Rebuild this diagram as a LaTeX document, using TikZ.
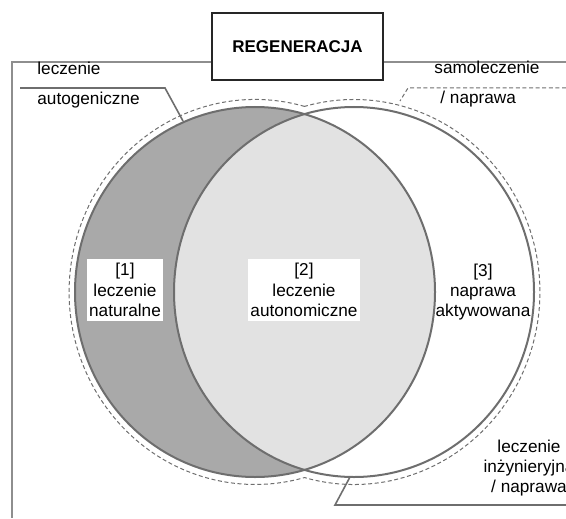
\documentclass[tikz,border=0pt]{standalone}
\usepackage{fontspec}
\setmainfont{Liberation Sans}
\usepackage{tikz}
\usetikzlibrary{positioning, calc}
\definecolor{venndark}{HTML}{A9A9A9}
\definecolor{vennlight}{HTML}{E2E2E2}
\definecolor{vennline}{HTML}{6E6E6E}
\definecolor{frameline}{HTML}{8E8E8E}
\tikzset{titlebox/.style = {draw=black!85, line width=0.8pt, minimum width=85.5pt, minimum height=33.5pt, font=\bfseries\fontsize{8.5}{10}\selectfont}}
\tikzset{region/.style = {align=center, inner xsep=1.2pt, inner ysep=2.4pt, font=\fontsize{8.6}{10.1}\selectfont}}
\tikzset{tag/.style = {inner sep=0pt, anchor=base west, font=\fontsize{8.6}{10.1}\selectfont}}
\tikzset{frame/.style = {frameline, line width=1pt}}
\tikzset{lead/.style = {vennline, line width=0.8pt}}
\tikzset{bound/.style = {vennline, line width=0.5pt, dash pattern=on 2pt off 1.3pt}}
\tikzset{ring/.style = {vennline, line width=1pt}}

\begin{document}
\begin{tikzpicture}[x=0.5pt, y=-0.5pt]
            \clip (0,0) rectangle (566,518);
            \coordinate (cL) at (255,292);
            \coordinate (cR) at (354,292);
            \coordinate (cusp) at (304.5,106.4);

            \fill[venndark] (cL) ellipse [x radius=90pt, y radius=92.5pt];
            \begin{scope}
                \clip (cR) ellipse [x radius=90pt, y radius=92.5pt];
                \fill[vennlight] (cL) ellipse [x radius=90pt, y radius=92.5pt];
            \end{scope}
            \draw[ring] (cL) ellipse [x radius=90pt, y radius=92.5pt];
            \draw[ring] (cR) ellipse [x radius=90pt, y radius=92.5pt];
            \draw[bound] (cusp) arc [start angle=74.6, end angle=285.4, x radius=93pt, y radius=96.25pt]
                                arc [start angle=-105.4, end angle=105.4, x radius=93pt, y radius=96.25pt];

            \node[titlebox] (regen) at (297.5,46.5) {REGENERACJA};
            \coordinate (frameL) at (12,62);
            \coordinate (frameB) at (12,518);
            \coordinate (frameR) at (566,62);
            \draw[frame] (regen.west |- frameL) -- (frameL) -- (frameB);
            \draw[frame] (regen.east |- frameR) -- (frameR);

            \node[tag] (autoA) at (37,75)  {leczenie};
            \node[tag] (autoB) at (37,105) {autogeniczne};
            \coordinate (autoS) at (20,88);
            \coordinate (autoK) at (165,88);
            \coordinate (autoE) at (183,121);
            \draw[lead] (autoS) -- (autoK) -- (autoE);

            \node[tag] (selfA) at (434,74)  {samoleczenie};
            \node[tag] (selfB) at (440,104) {/ naprawa};
            \coordinate (selfS) at (566,88);
            \coordinate (selfK) at (408,88);
            \coordinate (selfE) at (400,101);
            \draw[bound] (selfS) -- (selfK) -- (selfE);

            \node[region] (engin) at (529,468) {leczenie\\inżynieryjna\\/ naprawa};
            \coordinate (enginS) at (350,477);
            \coordinate (enginK) at (335,505);
            \coordinate (enginE) at (566,505);
            \draw[lead] (enginS) -- (enginK) -- (enginE);

            \node[region, fill=white] (natural) at (125,290) {[1]\\leczenie\\naturalne};
            \node[region, fill=white] (autonom) at (304,290) {[2]\\leczenie\\autonomiczne};
            \node[region] (activ) at (483,292) {[3]\\naprawa\\aktywowana};
        \end{tikzpicture}
\end{document}
